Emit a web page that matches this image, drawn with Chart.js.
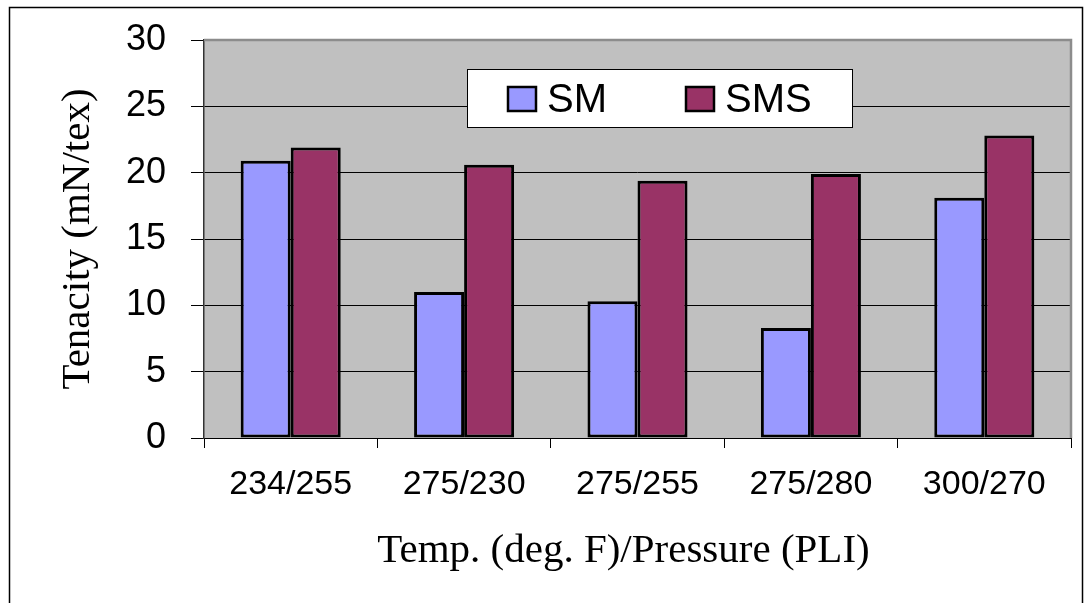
<!DOCTYPE html>
<html>
<head>
<meta charset="utf-8">
<script src="https://cdn.jsdelivr.net/npm/chart.js@4"></script>
<style>
    html, body { margin: 0; padding: 0; background: #fff; }
    .chart-wrap { width: 1085px; height: 603px; }
</style>
</head>
<body>
<div class="chart-wrap"><canvas id="tenacity"></canvas></div>
<script>
// Data

const categories = ["234/255", "275/230", "275/255", "275/280", "300/270"];
const smValues = [20.9, 11.0, 10.3, 8.3, 18.1];
const smsValues = [21.9, 20.6, 19.4, 19.9, 22.8];
const yTicks = [0, 5, 10, 15, 20, 25, 30];
const xTitle = "Temp. (deg. F)/Pressure (PLI)";

// Plugins

const frame = {
    id: "frame",
    beforeDraw(chart) {
        const { ctx, chartArea: a } = chart;
        ctx.save();
        ctx.strokeStyle = "#000";
        ctx.lineWidth = 1.5;
        ctx.strokeRect(9.5, 7.5, 1073, 620);
        ctx.fillStyle = "#C0C0C0";
        ctx.fillRect(a.left, a.top, a.right - a.left, a.bottom - a.top);
        ctx.restore();
    },
    afterDatasetsDraw(chart) {
        const { ctx, chartArea: a } = chart;
        ctx.save();
        ctx.strokeStyle = "#8c8c8c";
        ctx.lineWidth = 2.5;
        ctx.beginPath();
        ctx.moveTo(a.left, a.top);
        ctx.lineTo(a.right, a.top);
        ctx.lineTo(a.right, a.bottom);
        ctx.stroke();
        ctx.restore();
    }
};

// x axis caption, sits a little left of the plot centre
const xCaption = {
    id: "xCaption",
    afterDraw(chart) {
        const { ctx, chartArea: a } = chart;
        ctx.save();
        ctx.font = "41px 'Liberation Serif', 'Times New Roman', serif";
        ctx.fillStyle = "#000";
        ctx.textAlign = "center";
        ctx.textBaseline = "middle";
        ctx.fillText(xTitle, (a.left + a.right) / 2 - 14, a.bottom + 113);
        ctx.restore();
    }
};

const boxLegend = {
    id: "boxLegend",
    afterDraw(chart) {
        const { ctx, chartArea: a } = chart;
        const x = a.left + 263, y = a.top + 29, w = 385, h = 58;
        ctx.save();
        ctx.fillStyle = "#fff";
        ctx.fillRect(x, y, w, h);
        ctx.strokeStyle = "#000";
        ctx.lineWidth = 1;
        ctx.strokeRect(x + 0.5, y + 0.5, w, h);
        ctx.font = "40px 'Liberation Sans', Arial, sans-serif";
        ctx.textBaseline = "alphabetic";
        const starts = [x + 41, x + 219];
        chart.data.datasets.forEach((ds, i) => {
            const sx = starts[i];
            ctx.fillStyle = ds.backgroundColor;
            ctx.fillRect(sx, y + 18, 28, 24);
            ctx.lineWidth = 2.5;
            ctx.strokeRect(sx, y + 18, 28, 24);
            ctx.fillStyle = "#000";
            ctx.fillText(ds.label, sx + 39, y + 43);
        });
        ctx.restore();
    }
};

// Chart

const ctx = document.getElementById("tenacity");

const chart = new Chart(ctx, {
    type: "bar",
    data: {
        labels: categories,
        datasets: [
            {
                label: "SM",
                data: smValues,
                backgroundColor: "#9999FF",
                borderColor: "#000",
                borderWidth: 3,
                borderSkipped: false,
            },
            {
                label: "SMS",
                data: smsValues,
                backgroundColor: "#993366",
                borderColor: "#000",
                borderWidth: 3,
                borderSkipped: false,
            },
        ]
    },
    options: {
        responsive: true,
        maintainAspectRatio: false,
        animation: false,
        layout: {
            padding: { left: 50, top: 40, right: 14, bottom: 24 }
        },
        datasets: {
            bar: { categoryPercentage: 0.577, barPercentage: 1 }
        },
        scales: {
            x: {
                afterFit(scale) { scale.height = 141; },
                grid: {
                    offset: true,
                    drawOnChartArea: false,
                    drawTicks: true,
                    tickLength: 10,
                    color: "#000",
                },
                border: { color: "#000", width: 1 },
                ticks: {
                    color: "#000",
                    padding: 16,
                    font: { family: "'Liberation Sans', Arial, sans-serif", size: 34 },
                },
            },
            y: {
                min: 0,
                max: 30,
                afterFit(scale) {
                    scale.width = 154;
                    scale.paddingTop = 0;
                    scale.paddingBottom = 0;
                },
                afterBuildTicks(scale) {
                    scale.ticks = yTicks.map(v => ({ value: v }));
                },
                grid: {
                    color: "#000",
                    lineWidth: 1,
                    tickLength: 13,
                },
                border: { color: "#333", width: 1.5 },
                ticks: {
                    color: "#000",
                    padding: 25,
                    font: { family: "'Liberation Sans', Arial, sans-serif", size: 36 },
                },
                title: {
                    display: true,
                    text: "Tenacity (mN/tex)",
                    color: "#000",
                    padding: { top: 4, bottom: 4 },
                    font: { family: "'Liberation Serif', 'Times New Roman', serif", size: 41, lineHeight: 1.2 },
                },
            },
        },
        plugins: {
            legend: {
                display: false
            },
            tooltip: false,
        },
    },
    plugins: [frame, xCaption, boxLegend],
});
</script>
</body>
</html>
